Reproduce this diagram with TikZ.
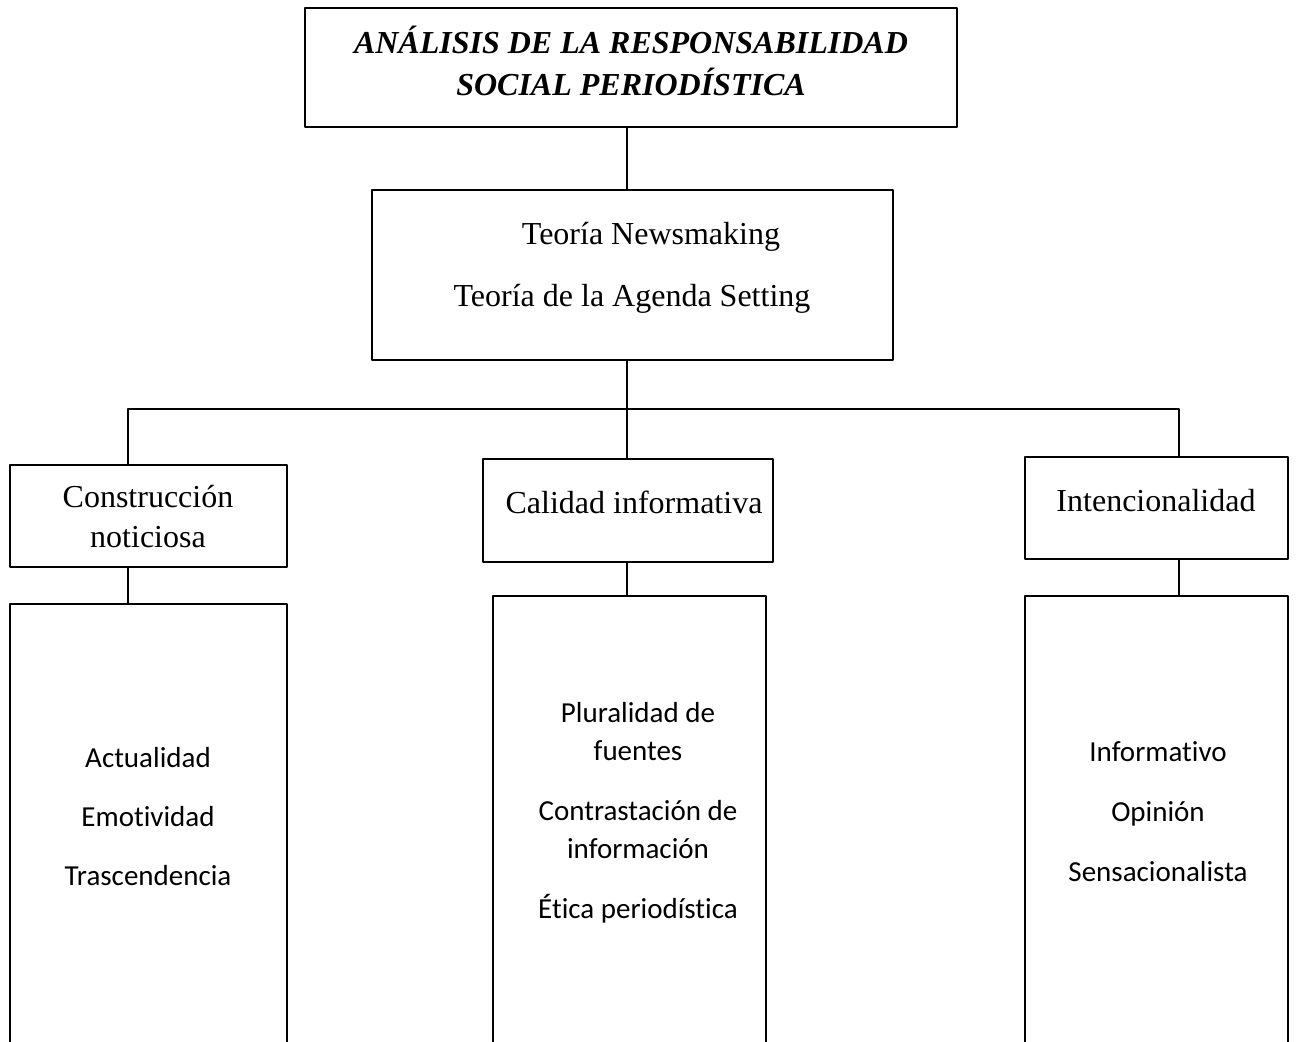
\documentclass[tikz,border=0pt]{standalone}
\usepackage{fontspec}
\setmainfont{Liberation Serif}
\newfontfamily\calibrifont[Ligatures=NoCommon]{Carlito}
\begin{document}
\begin{tikzpicture}[x=0.5pt,y=-0.5pt,line cap=round,line join=round,
  frame/.style={draw=black,line width=1.25pt,inner sep=0pt},
  link/.style={draw=black,line width=0.55pt},
  serif/.style={font=\fontsize{16}{21}\selectfont,align=center,inner sep=0pt},
  titletext/.style={font=\fontsize{16}{21}\selectfont\bfseries\itshape,align=center,inner sep=0pt},
  sans/.style={font=\calibrifont\fontsize{14.5}{19}\selectfont,align=center,inner sep=0pt}]
\clip (0,0) rectangle (1296,1041);
\fill[white] (0,0) rectangle (1296,1041);
\node[frame,minimum width=326pt,minimum height=59.5pt] (analisis) at (631,67.5) {};
\node[frame,minimum width=260.5pt,minimum height=85pt] (teorias) at (632.5,275) {};
\node[frame,minimum width=138.5pt,minimum height=51pt] (construccion) at (148.5,516) {};
\node[frame,minimum width=145pt,minimum height=51.5pt] (calidad) at (628,510.5) {};
\node[frame,minimum width=131.5pt,minimum height=51pt] (intencion) at (1156.5,508) {};
\node[frame,minimum width=138.5pt,minimum height=238pt] (indic-c) at (148.5,842) {};
\node[frame,minimum width=136.5pt,minimum height=242pt] (indic-q) at (629.5,838) {};
\node[frame,minimum width=131.5pt,minimum height=242pt] (indic-i) at (1156.5,838) {};
\node[titletext] (analisis-t) at (631,61) {ANÁLISIS DE LA RESPONSABILIDAD\\SOCIAL PERIODÍSTICA};
\node[serif] (newsmaking) at (651,237) {Teoría Newsmaking};
\node[serif] (agenda) at (632,299) {Teoría de la Agenda Setting};
\node[serif] (construccion-t) at (148,517) {Construcción\\[-1pt]noticiosa};
\node[serif] (calidad-t) at (634,502) {Calidad informativa};
\node[serif] (intencion-t) at (1156,501) {Intencionalidad};
\node[sans] (indic-c-t) at (148,817) {Actualidad\\[10.5pt]Emotividad\\[10.5pt]Trascendencia};
\node[sans] (indic-q-t) at (638,813) {Pluralidad de\\fuentes\\[11pt]Contrastación de\\información\\[11pt]Ética periodística};
\node[sans] (indic-i-t) at (1158,812) {Informativo\\[11pt]Opinión\\[11pt]Sensacionalista};
\coordinate (bus-l) at (128,409);
\coordinate (bus-c) at (627,409);
\coordinate (bus-r) at (1179,409);
\draw[link] (analisis.south -| bus-c) -- (teorias.north -| bus-c);
\draw[link] (teorias.south -| bus-c) -- (bus-c);
\draw[link] (construccion.north -| bus-l) -- (bus-l) -- (bus-r) -- (intencion.north -| bus-r);
\draw[link] (bus-c) -- (calidad.north -| bus-c);
\draw[link] (construccion.south -| bus-l) -- (indic-c.north -| bus-l);
\draw[link] (calidad.south -| bus-c) -- (indic-q.north -| bus-c);
\draw[link] (intencion.south -| bus-r) -- (indic-i.north -| bus-r);
\end{tikzpicture}
\end{document}
